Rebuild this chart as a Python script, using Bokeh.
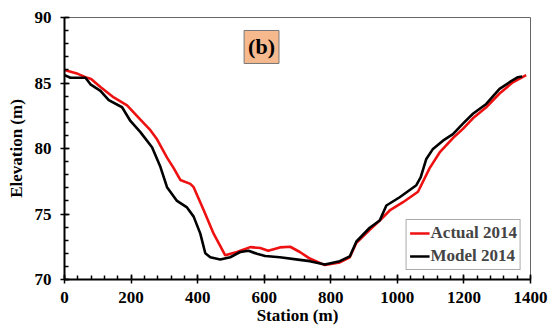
from bokeh.plotting import figure
from bokeh.models import Label, Legend, LegendItem, FixedTicker
from bokeh.embed import file_html
from bokeh.resources import INLINE

actual_station = [0, 40, 63, 80, 108, 148, 188, 228, 258, 278, 308, 328, 348, 378, 388, 418, 448, 483,
                  518, 558, 588, 612, 647, 678, 707, 737, 782, 827, 857, 877, 917, 947, 977, 1017, 1062,
                  1097, 1127, 1167, 1197, 1227, 1267, 1307, 1347, 1387]
actual_elev = [86.0, 85.7, 85.45, 85.3, 84.7, 83.9, 83.3, 82.2, 81.4, 80.7, 79.3, 78.5, 77.6, 77.3, 77.05,
               75.3, 73.5, 71.85, 72.1, 72.47, 72.4, 72.2, 72.45, 72.5, 72.1, 71.6, 71.1, 71.3, 71.7, 72.8,
               73.8, 74.5, 75.27, 75.9, 76.7, 78.5, 79.7, 80.8, 81.5, 82.3, 83.15, 84.2, 85.05, 85.6]

model_station = [0, 18, 63, 78, 108, 133, 173, 198, 228, 263, 288, 308, 338, 368, 388, 408, 423, 438, 468,
                 498, 528, 553, 578, 603, 647, 707, 737, 782, 827, 857, 877, 917, 947, 967, 1007, 1057,
                 1070, 1087, 1107, 1137, 1167, 1197, 1227, 1267, 1307, 1337, 1362, 1375]
model_elev = [85.6, 85.4, 85.4, 84.9, 84.4, 83.7, 83.15, 82.1, 81.25, 80.1, 78.6, 77.05, 76.0, 75.5, 74.8,
              73.5, 72.0, 71.7, 71.53, 71.7, 72.1, 72.2, 71.96, 71.8, 71.7, 71.5, 71.4, 71.15, 71.4, 71.76,
              72.9, 73.95, 74.5, 75.65, 76.28, 77.2, 77.8, 79.2, 79.97, 80.6, 81.1, 81.9, 82.65, 83.4,
              84.55, 85.06, 85.44, 85.5]

x_ticks = [0, 200, 400, 600, 800, 1000, 1200, 1400]
y_ticks = [70, 75, 80, 85, 90]
panel_label = "(b)"
series_names = ["Actual 2014", "Model 2014"]

FONT = "Liberation Serif"

p = figure(width=560, height=327, output_backend="svg", toolbar_location=None,
           x_range=(0, 1400), y_range=(70, 90),
           min_border_left=64, min_border_right=30, min_border_top=17, min_border_bottom=48)
p.grid.visible = False
p.outline_line_color = "#666666"
p.outline_line_width = 1
p.background_fill_color = "white"
p.border_fill_color = "white"

r_act = p.line(actual_station, actual_elev, line_color="#ee1111", line_width=2.6)
r_mod = p.line(model_station, model_elev, line_color="black", line_width=2.6)

for ax in (p.xaxis[0], p.yaxis[0]):
    ax.axis_line_color = "black"
    ax.axis_line_width = 2
    ax.major_tick_line_width = 1.5
    ax.minor_tick_line_width = 1.5
    ax.major_tick_in = 5
    ax.major_tick_out = 4
    ax.minor_tick_in = 4
    ax.minor_tick_out = 0
    ax.major_label_text_font = FONT
    ax.major_label_text_font_style = "bold"
    ax.major_label_text_font_size = "17px"
    ax.major_label_text_color = "black"
    ax.axis_label_text_font = FONT
    ax.axis_label_text_font_style = "bold"
    ax.axis_label_text_font_size = "17px"
    ax.axis_label_text_color = "black"

p.xaxis.ticker = FixedTicker(ticks=x_ticks, minor_ticks=list(range(0, 1401, 40)))
p.yaxis.ticker = FixedTicker(ticks=y_ticks, minor_ticks=list(range(70, 91, 1)))
p.xaxis.axis_label = "Station (m)"
p.yaxis.axis_label = "Elevation (m)"
p.xaxis.major_label_standoff = 8
p.xaxis.axis_label_standoff = 0
p.yaxis.major_label_standoff = 9
p.yaxis.axis_label_standoff = 6

lbl = Label(x=592, y=87.75, text=panel_label, text_align="center", text_baseline="middle",
            text_font=FONT, text_font_style="bold", text_font_size="22px", text_color="black",
            background_fill_color="#f5b98d", border_line_color="#777777", border_line_width=1,
            padding=4)
p.add_layout(lbl)

legend = Legend(items=[LegendItem(label=series_names[0], renderers=[r_act]),
                       LegendItem(label=series_names[1], renderers=[r_mod])],
                location="bottom_right", margin=9, padding=3, spacing=3,
                glyph_width=20, glyph_height=20, label_standoff=1,
                label_text_font=FONT, label_text_font_style="bold", label_text_font_size="17px",
                border_line_color="#555555", border_line_width=1, background_fill_alpha=1)
p.add_layout(legend)

open("out.html", "w").write(file_html(p, INLINE))
